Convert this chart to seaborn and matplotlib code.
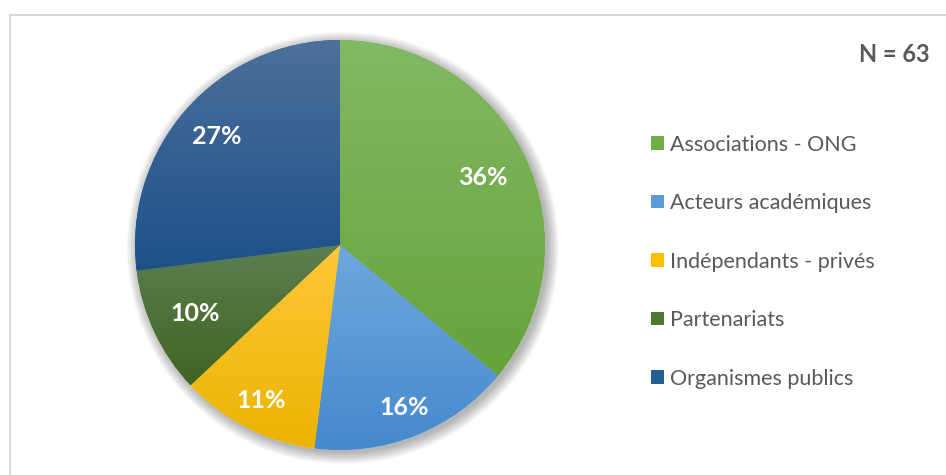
import numpy as np
import matplotlib
matplotlib.use("Agg")
import matplotlib.pyplot as plt
import seaborn as sns
from matplotlib.colors import LinearSegmentedColormap
from matplotlib.patches import Patch, Circle
from matplotlib.lines import Line2D

# data
categories = ["Associations - ONG", "Acteurs académiques", "Indépendants - privés",
              "Partenariats", "Organismes publics"]
shares = [36, 16, 11, 10, 27]
total_n = 63

# colours (base / top of gradient / bottom of gradient)
base_colors = sns.color_palette(["#70AD47", "#5B9BD5", "#FFC000", "#4E7A34", "#255E91"])
top_colors = ["#82B964", "#70A7DE", "#FFC73A", "#5E7E50", "#4D6F9B"]
bottom_colors = ["#66A33A", "#4489CD", "#EBB400", "#3D6522", "#1B5189"]
label_radius = [0.77, 0.85, 0.85, 0.78, 0.80]

sns.set_theme(style="white")
plt.rcParams['font.family'] = ['Lato', 'DejaVu Sans']

fig = plt.figure(figsize=(9.46, 4.75), dpi=100)
W, H = 946, 475

# pie axes placed in pixel box (center 340,245 radius 205)
ax = fig.add_axes([135 / W, (H - 450) / H, 410 / W, 410 / H])
ax.set_xlim(-1, 1)
ax.set_ylim(-1, 1)
ax.set_aspect("equal")
ax.axis("off")

# soft shadow
for k in range(10):
    ax.add_patch(Circle((0.014, -0.014), 1.0 + 0.006 * k, color="black",
                        alpha=0.03, lw=0, zorder=0, clip_on=False))
ax.add_patch(Circle((0, 0), 1.0, color="white", lw=0, zorder=0.5))

wedges, _ = ax.pie(shares, startangle=90, counterclock=False, radius=1,
                   colors=base_colors, wedgeprops=dict(linewidth=0))

# vertical gradient inside each slice
grad = np.linspace(0, 1, 256).reshape(-1, 1)
for w, c0, c1 in zip(wedges, top_colors, bottom_colors):
    path = w.get_path()
    verts = w.get_transform().transform(path.vertices)
    verts = ax.transData.inverted().transform(verts)
    ymin, ymax = verts[:, 1].min(), verts[:, 1].max()
    xmin, xmax = verts[:, 0].min(), verts[:, 0].max()
    cmap = LinearSegmentedColormap.from_list("g", [c0, c1])
    im = ax.imshow(grad, cmap=cmap, extent=[xmin, xmax, ymin, ymax],
                   aspect="auto", origin="upper", zorder=2)
    im.set_clip_path(w)
    w.set_zorder(1)

ax.set_xlim(-1, 1)
ax.set_ylim(-1, 1)

# percentage labels
cum = 0
for s, r in zip(shares, label_radius):
    mid = np.deg2rad(90 - (cum + s / 2) / sum(shares) * 360)
    cum += s
    ax.text(r * np.cos(mid), r * np.sin(mid), f"{s}%", color="white",
            fontsize=18, fontweight="bold", ha="center", va="center", zorder=5)

# legend
handles = [Patch(facecolor=c, edgecolor="none") for c in base_colors]
fig.legend(handles, categories, loc="upper left",
           bbox_to_anchor=(642 / W, 1 - 126 / H), frameon=False,
           fontsize=15.5, labelcolor="#595959", handlelength=0.6,
           handleheight=0.6, handletextpad=0.3, labelspacing=1.79,
           borderaxespad=0)

fig.text(930 / W, 1 - 54 / H, f"N = {total_n}", ha="right", va="center",
         fontsize=17, fontweight="bold", color="#595959")

# chart area border (left and top edges visible)
fig.add_artist(Line2D([10 / W, 10 / W], [0, 1 - 15 / H], transform=fig.transFigure,
                      color="#D9D9D9", lw=1.5))
fig.add_artist(Line2D([10 / W, 1], [1 - 15 / H, 1 - 15 / H], transform=fig.transFigure,
                      color="#D9D9D9", lw=1.5))

fig.savefig("out.png", dpi=100, facecolor="white")
